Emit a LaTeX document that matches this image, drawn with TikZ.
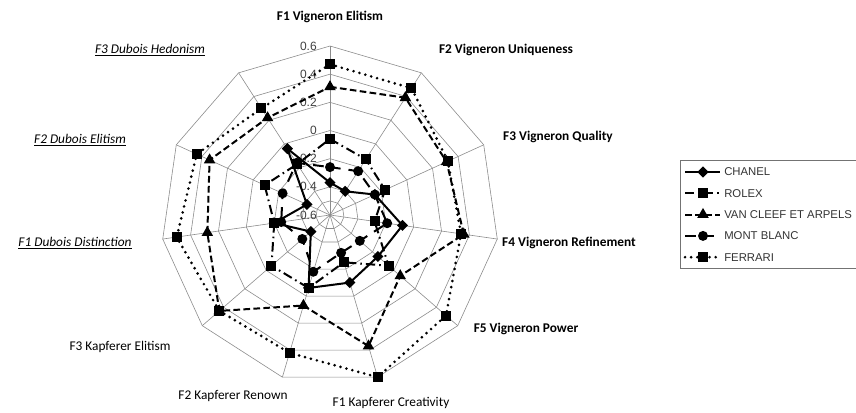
\documentclass[tikz,border=0pt]{standalone}
\usepackage{fontspec}
\setmainfont{Carlito}
\newfontfamily\arialfont{Liberation Sans}
\usetikzlibrary{shapes.geometric}

\tikzset{
  grid line/.style={draw=black!45, line width=0.45pt},
  axis title/.style={inner sep=0.75pt, font=\fontsize{10}{12}\selectfont},
  tick label/.style={inner sep=0.75pt, anchor=east, text=black!75, font=\arialfont\fontsize{9}{10}\selectfont},
  legend text/.style={inner sep=0.75pt, anchor=west, text=black!80, font=\arialfont\fontsize{8.5}{10}\selectfont},
  chanel-line/.style={line width=1.5pt},
  rolex-line/.style={line width=1.5pt, dash pattern=on 7pt off 3pt on 1.2pt off 3pt},
  vancleef-line/.style={line width=1.5pt, dash pattern=on 5pt off 2.5pt},
  montblanc-line/.style={line width=1.5pt, dash pattern=on 8pt off 6pt},
  ferrari-line/.style={line width=2.2pt, line cap=round, dash pattern=on 0pt off 4.6pt},
  chanel-mark/.style={diamond, fill=black, inner sep=0pt, minimum size=8.5pt},
  rolex-mark/.style={rectangle, fill=black, inner sep=0pt, minimum size=7.5pt},
  vancleef-mark/.style={regular polygon, regular polygon sides=3, fill=black, inner sep=0pt, minimum size=10pt},
  montblanc-mark/.style={circle, fill=black, inner sep=0pt, minimum size=7.5pt},
  ferrari-mark/.style={rectangle, fill=black, inner sep=0pt, minimum size=7.5pt}
}

% one series: name, eleven values (axis from -0.6 at the centre to 0.6)
\newcommand\plotseries[2]{%
  \foreach \v [count=\k from 0] in {#2}
    \coordinate (#1-\k) at ({-90+360/11*\k}:{(\v+0.6)*140.83});
  \draw[#1-line] (#1-0) \foreach \k in {1,...,10}{ -- (#1-\k)} -- cycle;
  \foreach \k in {0,...,10}
    \node[#1-mark] (#1m\k) at (#1-\k) {};
}

\begin{document}
\begin{tikzpicture}[x=0.75pt,y=0.75pt,yscale=-1,xscale=1]
\path[use as bounding box] (0,0) rectangle (856,412);

\begin{scope}[shift={(330,215)}]
% Grid rings
\foreach \r in {14.08,28.17,56.33,84.5,112.67,140.83,169}
  \draw[grid line] (-90:\r) \foreach \k in {1,...,10}{ -- ({-90+360/11*\k}:\r)} -- cycle;
% Spokes
\foreach \k in {0,...,10}
  \draw[grid line] (0,0) -- ({-90+360/11*\k}:169);
% Tick labels
\foreach \t [count=\i from 0] in {-0.6,-0.4,-0.2,0,0.2,0.4,0.6}
  \node[tick label] (tick\i) at (-12,{-28.17*\i}) {\t};

% Series
\plotseries{chanel}{-0.37,-0.40,-0.25,-0.08,-0.15,-0.10,-0.06,-0.42,-0.20,-0.42,-0.04}
\plotseries{rolex}{-0.06,-0.13,-0.17,-0.28,-0.05,-0.25,-0.06,-0.05,-0.20,-0.09,-0.17}
\plotseries{vancleef}{0.31,0.39,0.31,0.36,0.06,0.37,0.07,0.44,0.28,0.34,0.22}
\plotseries{montblanc}{-0.26,-0.23,-0.25,-0.19,-0.32,-0.32,-0.18,-0.34,-0.25,-0.23,-0.16}
\plotseries{ferrari}{0.47,0.47,0.32,0.34,0.49,0.60,0.42,0.44,0.50,0.44,0.30}
\end{scope}

% Axis titles
\node[axis title] (ve1) at (330,17) {\bfseries F1 Vigneron Elitism};
\node[axis title] (ve2) at (506,50) {\bfseries F2 Vigneron Uniqueness};
\node[axis title] (ve3) at (558,137) {\bfseries F3 Vigneron Quality};
\node[axis title] (ve4) at (569,243) {\bfseries F4 Vigneron Refinement};
\node[axis title] (ve5) at (526,329) {\bfseries F5 Vigneron Power};
\node[axis title] (ka1) at (391,403) {F1 Kapferer Creativity};
\node[axis title] (ka2) at (233,396) {F2 Kapferer Renown};
\node[axis title] (ka3) at (120,347) {F3 Kapferer Elitism};
\node[axis title] (du1) at (75,243) {\itshape\underline{F1 Dubois Distinction}};
\node[axis title] (du2) at (80,140) {\itshape\underline{F2 Dubois Elitism}};
\node[axis title] (du3) at (150,50) {\itshape\underline{F3 Dubois Hedonism}};

% Legend
\draw[draw=black!55, line width=0.6pt] (680,160) rectangle (862,268);
\foreach \name/\txt [count=\i from 0] in {chanel/CHANEL,rolex/ROLEX,vancleef/VAN CLEEF ET ARPELS,montblanc/MONT BLANC,ferrari/FERRARI}{
  \coordinate (leg\i) at (703,{172+21.3*\i});
  \draw[\name-line] ([xshift=-13.5pt]leg\i) -- ([xshift=13pt]leg\i);
  \node[\name-mark] (legm\i) at (leg\i) {};
  \node[legend text] (legt\i) at ([xshift=15pt]leg\i) {\txt};
}

\end{tikzpicture}
\end{document}
